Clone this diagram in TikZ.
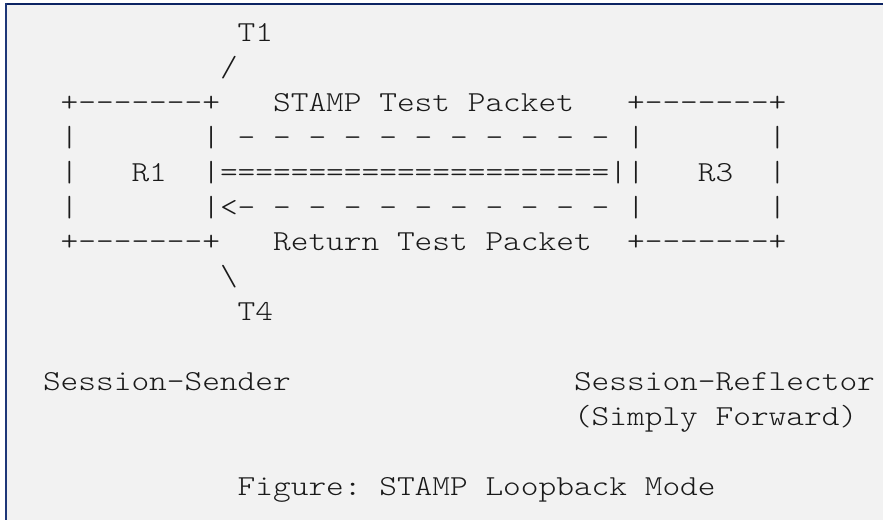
\documentclass[tikz,border=0pt]{standalone}
\usepackage{graphicx}
\definecolor{bgc}{HTML}{F2F2F2}
\definecolor{topc}{HTML}{0C2463}
\definecolor{leftc}{HTML}{1E3778}
\definecolor{txt}{HTML}{1A1A1A}
\newlength\ascw
\newcommand\ascfont{\fontsize{29}{29}\selectfont\ttfamily\fontseries{l}\selectfont\frenchspacing}
\newcommand\stx[1]{\scalebox{\ascsx}[1]{#1}}
\newcommand\sevdash{-\kern0pt-\kern0pt-\kern0pt-\kern0pt-\kern0pt-\kern0pt-}
\tikzset{
  asc/.style={anchor=base west,inner sep=0pt,outer sep=0pt,text=txt,font=\ascfont}
}
\begin{document}
\settowidth\ascw{\ascfont M}%
\pgfmathsetmacro\ascsx{17.7/\ascw}%
\begin{tikzpicture}[x=1pt,y=-1pt]
\useasboundingbox (0,0) rectangle (883,520);
\fill[white] (0,0) rectangle (883,520);
\fill[bgc] (5,3) rectangle (883,520);
\fill[topc] (5,3) rectangle (883,5);
\fill[leftc] (5,3) rectangle (7,520);
% row 0
\node[asc] (t1) at ({43+17.7*11},41.5) {\stx{T1}};
% row 1
\node[asc] (sl) at ({43+17.7*10},76.4) {\stx{/}};
% row 2
\node[asc] (r1top) at ({43+17.7*1},111.3) {\stx{+\sevdash+}};
\node[asc] (stp) at ({43+17.7*13},111.3) {\stx{STAMP Test Packet}};
\node[asc] (r3top) at ({43+17.7*33},111.3) {\stx{+\sevdash+}};
% row 3
\node[asc] (a1) at ({43+17.7*1},146.2) {\stx{|}};
\node[asc] (a2) at ({43+17.7*9},146.2) {\stx{|}};
\node[asc] (fwd) at ({43+17.7*11},146.2) {\stx{- - - - - - - - - - -}};
\node[asc] (a3) at ({43+17.7*33},146.2) {\stx{|}};
\node[asc] (a4) at ({43+17.7*41},146.2) {\stx{|}};
% row 4
\node[asc] (b1) at ({43+17.7*1},181.1) {\stx{|}};
\node[asc] (rone) at ({43+17.7*5},181.1) {\stx{R1}};
\node[asc] (eq) at ({43+17.7*9},181.1) {\stx{|======================||}};
\node[asc] (rthree) at ({43+17.7*37},181.1) {\stx{R3}};
\node[asc] (b4) at ({43+17.7*41},181.1) {\stx{|}};
% row 5
\node[asc] (c1) at ({43+17.7*1},216) {\stx{|}};
\node[asc] (ret) at ({43+17.7*9},216) {\stx{|<- - - - - - - - - - -}};
\node[asc] (c3) at ({43+17.7*33},216) {\stx{|}};
\node[asc] (c4) at ({43+17.7*41},216) {\stx{|}};
% row 6
\node[asc] (r1bot) at ({43+17.7*1},250.9) {\stx{+\sevdash+}};
\node[asc] (rtp) at ({43+17.7*13},250.9) {\stx{Return Test Packet}};
\node[asc] (r3bot) at ({43+17.7*33},250.9) {\stx{+\sevdash+}};
% row 7
\node[asc] (bs) at ({43+17.7*10},285.8) {\stx{\textbackslash}};
% row 8
\node[asc] (t4) at ({43+17.7*11},320.7) {\stx{T4}};
% row 10
\node[asc] (ss) at ({43+17.7*0},390.5) {\stx{Session-Sender}};
\node[asc] (sr) at ({43+17.7*30},390.5) {\stx{Session-Reflector}};
% row 11
\node[asc] (sf) at ({43+17.7*30},425.4) {\stx{(Simply Forward)}};
% row 13
\node[asc] (fig) at ({43+17.7*11},495.2) {\stx{Figure: STAMP Loopback Mode}};
\end{tikzpicture}
\end{document}
